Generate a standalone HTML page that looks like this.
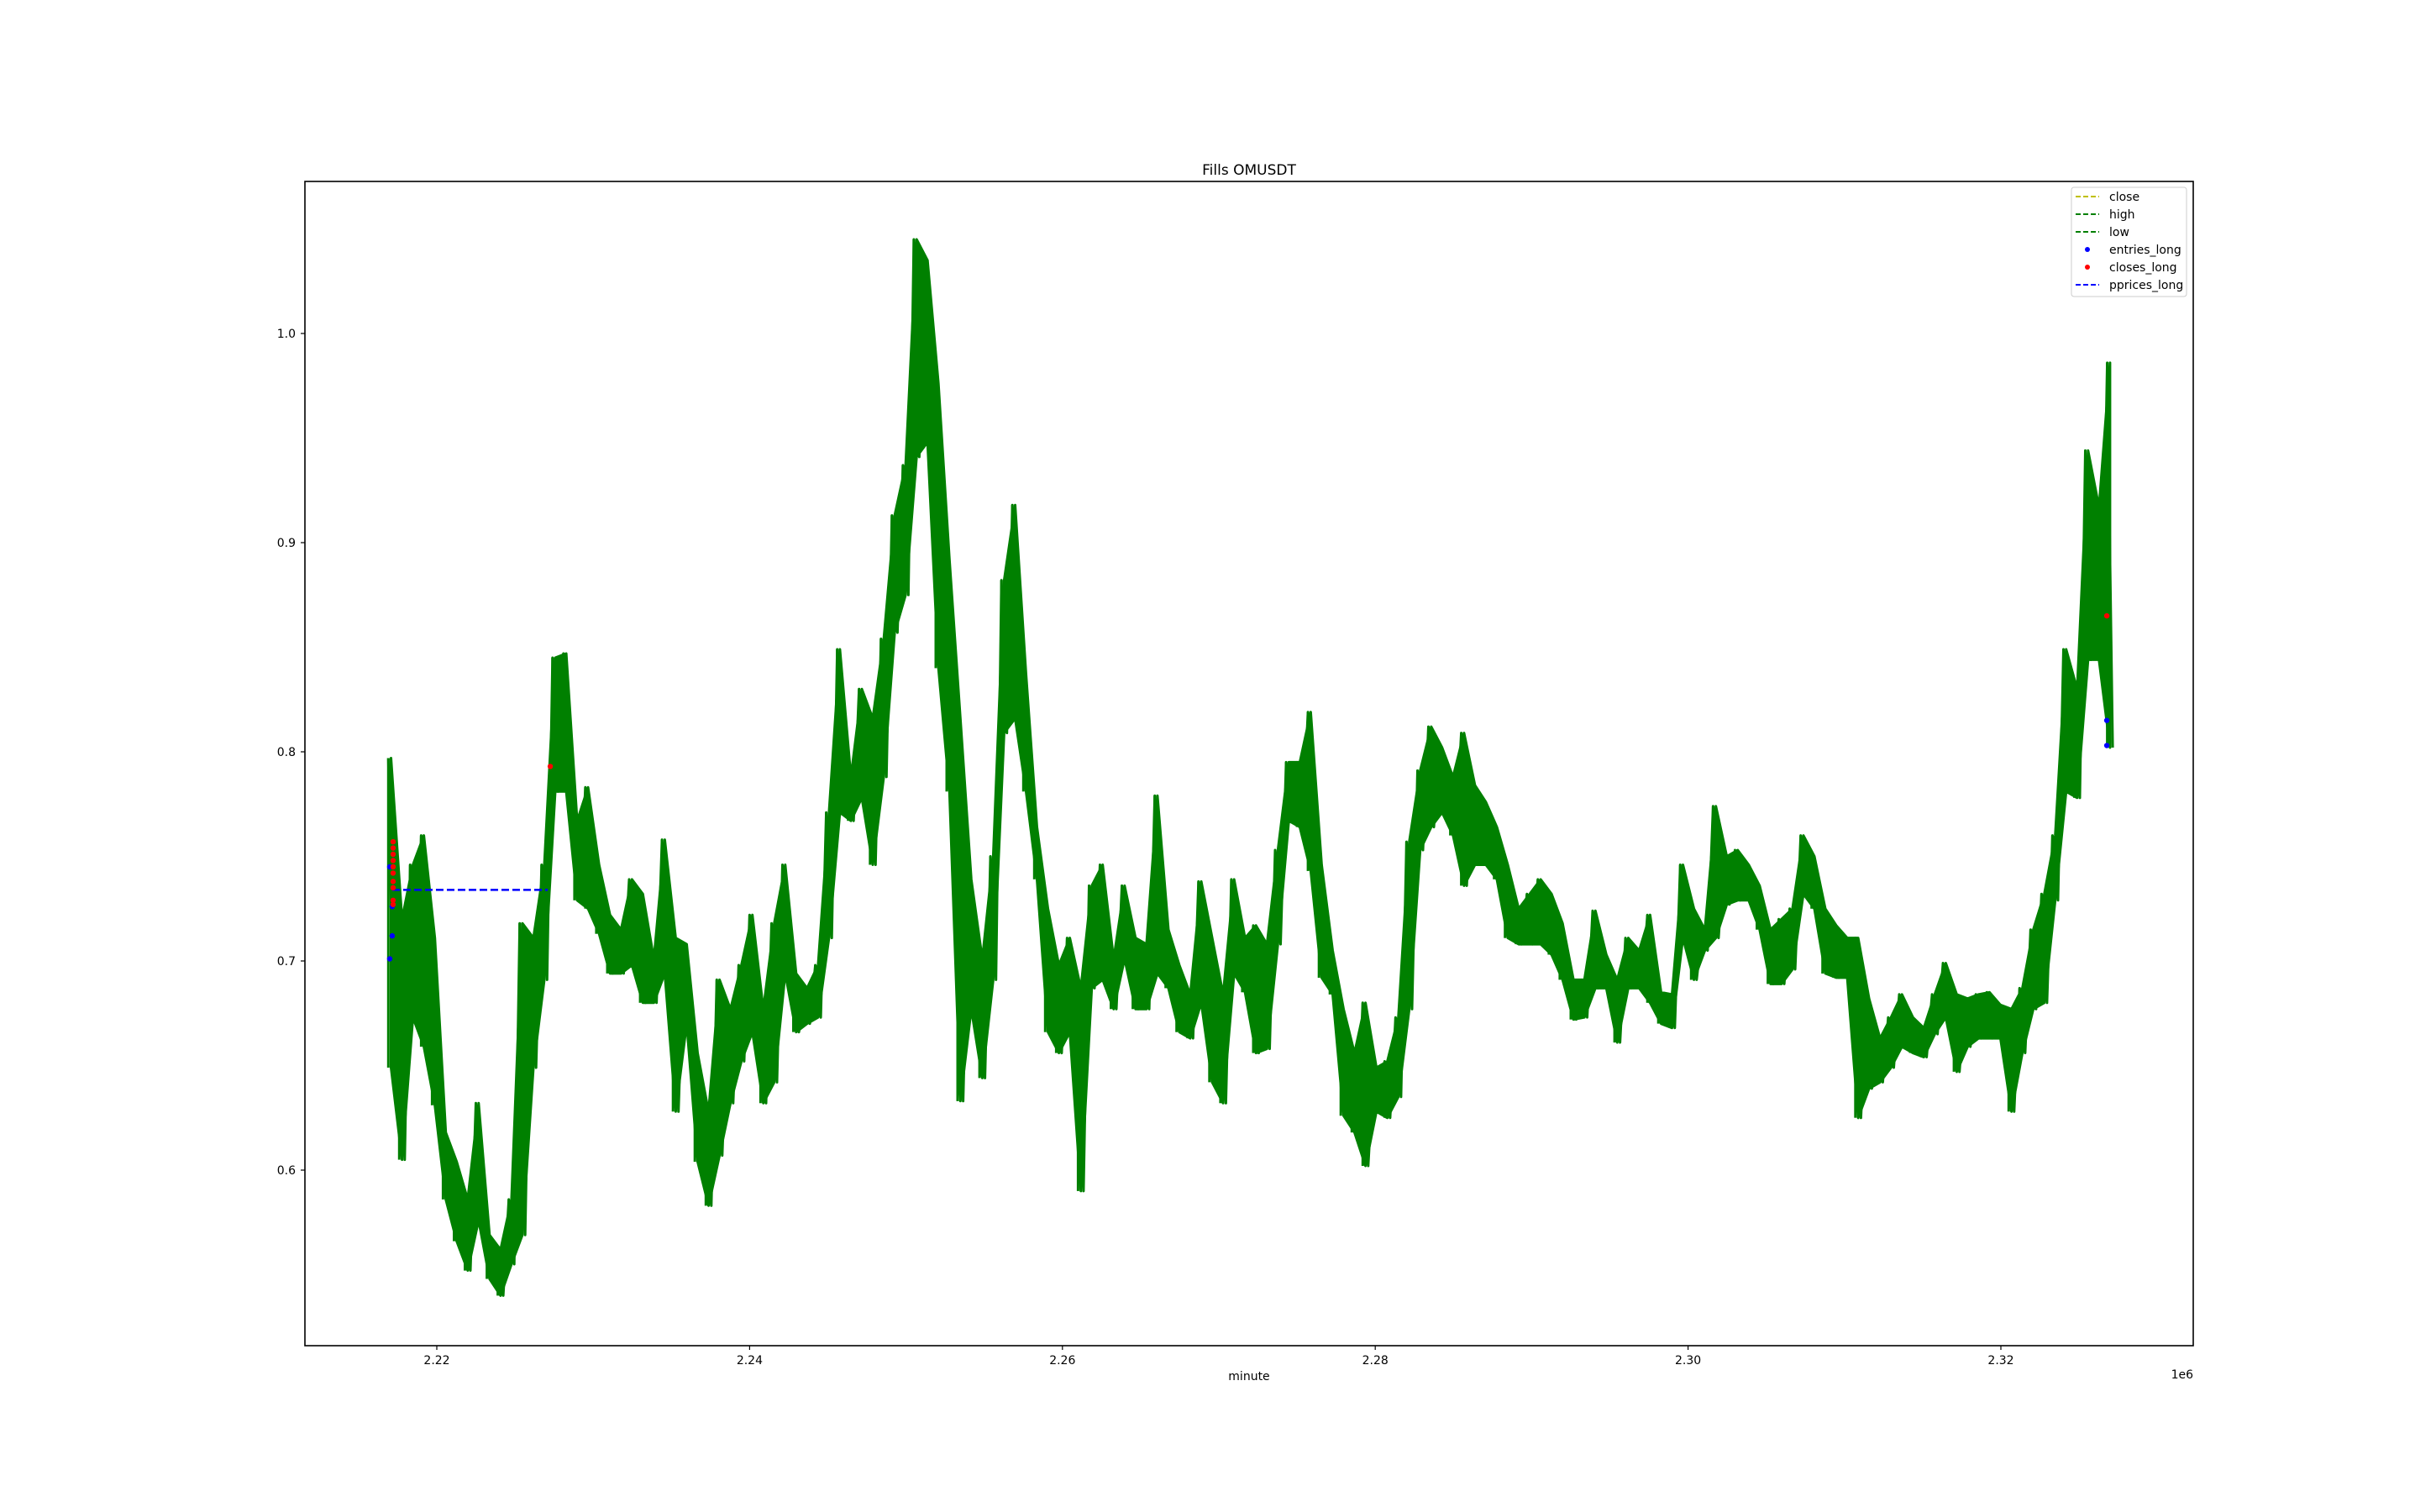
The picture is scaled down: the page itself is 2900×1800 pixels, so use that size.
<!DOCTYPE html>
<html><head><meta charset="utf-8"><style>
html,body{margin:0;padding:0;background:#fff;}
svg{display:block;font-family:"DejaVu Sans","Liberation Sans",sans-serif;}
</style></head><body>
<svg id="chart" width="2900" height="1800" viewBox="0 0 2900 1800">
<rect x="0" y="0" width="2900" height="1800" fill="#fff"/>
<g id="plot"></g>
<rect x="363" y="216" width="2248" height="1386" fill="none" stroke="#000" stroke-width="1.6"/>
<g id="axes"></g>
<text x="1487" y="208" font-size="17" text-anchor="middle" fill="#000">Fills OMUSDT</text>
<text x="1487" y="1643" font-size="14" text-anchor="middle" fill="#000">minute</text>
<text x="2611" y="1641" font-size="14" text-anchor="end" fill="#000">1e6</text>
<g id="legend">
<rect x="2466" y="223" width="137" height="130" rx="3" fill="#fff" fill-opacity="0.8" stroke="#ccc" stroke-width="1"/>
<g><line x1="2471" y1="234" x2="2499" y2="234" stroke="#bfbf00" stroke-width="2" stroke-dasharray="6,3"/><text x="2511" y="239" font-size="14">close</text></g>
<g><line x1="2471" y1="255" x2="2499" y2="255" stroke="#008000" stroke-width="2" stroke-dasharray="6,3"/><text x="2511" y="260" font-size="14">high</text></g>
<g><line x1="2471" y1="276" x2="2499" y2="276" stroke="#008000" stroke-width="2" stroke-dasharray="6,3"/><text x="2511" y="281" font-size="14">low</text></g>
<g><circle cx="2485" cy="297" r="3" fill="#0000ff"/><text x="2511" y="302" font-size="14">entries_long</text></g>
<g><circle cx="2485" cy="318" r="3" fill="#ff0000"/><text x="2511" y="323" font-size="14">closes_long</text></g>
<g><line x1="2471" y1="339" x2="2499" y2="339" stroke="#0000ff" stroke-width="2" stroke-dasharray="6,3"/><text x="2511" y="344" font-size="14">pprices_long</text></g>
</g>
</svg>
<script>
const startMinute = 2216900;
const stepMinutes = 700;
const highs = [0.797,0.72,0.746,0.76,0.711,0.618,0.604,0.586,0.632,0.569,0.562,0.586,0.718,0.711,0.746,0.845,0.847,0.767,0.783,0.746,0.722,0.715,0.739,0.732,0.701,0.758,0.711,0.708,0.656,0.628,0.691,0.677,0.698,0.722,0.677,0.718,0.746,0.694,0.687,0.698,
0.771,0.849,0.788,0.83,0.816,0.854,0.913,0.937,1.045,1.035,0.976,0.892,0.816,0.739,0.701,0.75,0.882,0.918,0.837,0.764,0.725,0.698,0.711,0.687,0.736,0.746,0.701,0.736,0.711,0.708,0.779,0.715,0.698,0.684,0.738,0.711,0.684,0.739,0.711,
0.717,0.708,0.753,0.795,0.795,0.819,0.746,0.705,0.677,0.656,0.68,0.649,0.652,0.673,0.757,0.791,0.812,0.802,0.788,0.809,0.784,0.776,0.764,0.746,0.725,0.732,0.739,0.732,0.718,0.691,0.691,0.724,0.703,0.691,0.711,0.705,0.722,0.685,0.684,0.746,
0.725,0.715,0.774,0.75,0.753,0.746,0.736,0.715,0.72,0.725,0.76,0.75,0.725,0.717,0.711,0.711,0.682,0.663,0.673,0.684,0.673,0.668,0.684,0.699,0.684,0.682,0.684,0.685,0.679,0.677,0.687,0.715,0.732,0.76,0.849,0.83,0.944,0.917,0.986];
const lows = [0.649,0.605,0.673,0.659,0.631,0.586,0.566,0.552,0.576,0.548,0.54,0.555,0.569,0.649,0.691,0.781,0.781,0.729,0.725,0.713,0.694,0.694,0.698,0.68,0.68,0.694,0.628,0.67,0.604,0.583,0.607,0.632,0.652,0.666,0.632,0.642,0.694,0.666,0.67,0.673,
0.711,0.771,0.767,0.778,0.746,0.788,0.857,0.875,0.941,0.948,0.84,0.781,0.633,0.677,0.644,0.691,0.809,0.816,0.781,0.739,0.666,0.656,0.666,0.59,0.687,0.691,0.677,0.701,0.677,0.677,0.694,0.687,0.666,0.663,0.68,0.642,0.632,0.694,0.685,
0.656,0.658,0.708,0.767,0.764,0.743,0.692,0.684,0.626,0.618,0.602,0.628,0.625,0.635,0.677,0.753,0.764,0.771,0.76,0.736,0.746,0.746,0.739,0.711,0.708,0.708,0.708,0.703,0.691,0.672,0.673,0.687,0.687,0.661,0.687,0.687,0.68,0.67,0.668,0.711,
0.691,0.705,0.711,0.727,0.729,0.729,0.715,0.689,0.689,0.696,0.732,0.725,0.694,0.692,0.692,0.625,0.639,0.642,0.649,0.659,0.656,0.654,0.665,0.673,0.647,0.659,0.663,0.663,0.663,0.628,0.656,0.677,0.68,0.729,0.781,0.778,0.844,0.844,0.802];
const entryMinutes = [2216991,2217150,2217150,2216991,2326771,2326771];
const entryPrices = [0.745,0.726,0.712,0.701,0.815,0.803];
const closeMinutes = [2217206,2217206,2217206,2217206,2217206,2217206,2217206,2217206,2217206,2217206,2227254,2326771];
const closePrices = [0.757,0.754,0.751,0.748,0.745,0.742,0.738,0.735,0.729,0.727,0.793,0.865];
const ppriceMinutes = [2217152,2227093];
const ppriceValues = [0.734,0.734];
const xTicks = [2.22e6,2.24e6,2.26e6,2.28e6,2.30e6,2.32e6];
const xTickLabels = ["2.22","2.24","2.26","2.28","2.30","2.32"];
const yTicks = [0.6,0.7,0.8,0.9,1.0];
const yTickLabels = ["0.6","0.7","0.8","0.9","1.0"];

const NS = "http://www.w3.org/2000/svg";
function xs(m){ return 520 + (m - 2.22e6) / 1e5 * 1862; }
function ys(v){ return 397 + (1 - v) * 2490; }
function mk(tag, attrs){ const e = document.createElementNS(NS, tag); for (const k in attrs) e.setAttribute(k, attrs[k]); return e; }

const plot = document.getElementById('plot');
const axes = document.getElementById('axes');

const topPts = [], botPts = [];
for (let i = 0; i < highs.length; i++) {
  const xm = xs(startMinute + i * stepMinutes + stepMinutes / 4);
  topPts.push(xm.toFixed(1) + ',' + ys(highs[i]).toFixed(1));
  botPts.unshift(xm.toFixed(1) + ',' + ys(lows[i]).toFixed(1));
}
const band = mk('polygon', {points: topPts.concat(botPts).join(' '), fill: '#008000', stroke: '#008000', 'stroke-width': 3, 'stroke-linejoin': 'round'});


plot.appendChild(band);

let pathD = '';
for (let i = 0; i < highs.length; i++) {
  const m0 = startMinute + i * stepMinutes;
  const x0 = xs(m0), xm = xs(m0 + stepMinutes / 2);
  const yh = ys(highs[i]), yl = ys(lows[i]);
  const r = mk('rect', {x: (x0-1.5).toFixed(1), y: yh.toFixed(1), width: 3, height: Math.max(3, yl-yh).toFixed(1), fill: '#008000'});
  
  
  plot.appendChild(r);
  pathD += (i ? 'L' : 'M') + x0.toFixed(1) + ',' + yh.toFixed(1) + 'L' + xm.toFixed(1) + ',' + yl.toFixed(1);
}
const zig = mk('path', {d: pathD, fill: 'none', stroke: '#008000', 'stroke-width': 3, 'stroke-linejoin': 'round'});


plot.appendChild(zig);

const pp = mk('line', {x1: xs(ppriceMinutes[0]), y1: ys(ppriceValues[0]), x2: xs(ppriceMinutes[1]), y2: ys(ppriceValues[1]), stroke: '#0000ff', 'stroke-width': 2.5, 'stroke-dasharray': '9,4'});


plot.appendChild(pp);

for (let i = 0; i < entryMinutes.length; i++) {
  const c = mk('circle', {cx: xs(entryMinutes[i]), cy: ys(entryPrices[i]), r: 3.2, fill: '#0000ff'});
  
  
  plot.appendChild(c);
}
for (let i = 0; i < closeMinutes.length; i++) {
  const c = mk('circle', {cx: xs(closeMinutes[i]), cy: ys(closePrices[i]), r: 3.2, fill: '#ff0000'});
  
  
  plot.appendChild(c);
}

for (let i = 0; i < xTicks.length; i++) {
  const x = xs(xTicks[i]);
  const t = mk('line', {x1: x, y1: 1602, x2: x, y2: 1607, stroke: '#000', 'stroke-width': 1.2});
  
  
  axes.appendChild(t);
  const l = mk('text', {x: x, y: 1624, 'font-size': 14, 'text-anchor': 'middle', fill: '#000'});
  l.textContent = xTickLabels[i];
  
  
  axes.appendChild(l);
}
for (let i = 0; i < yTicks.length; i++) {
  const y = ys(yTicks[i]);
  const t = mk('line', {x1: 358, y1: y, x2: 363, y2: y, stroke: '#000', 'stroke-width': 1.2});
  
  
  axes.appendChild(t);
  const l = mk('text', {x: 352, y: y + 5, 'font-size': 14, 'text-anchor': 'end', fill: '#000'});
  l.textContent = yTickLabels[i];
  
  
  axes.appendChild(l);
}
</script>
</body></html>
